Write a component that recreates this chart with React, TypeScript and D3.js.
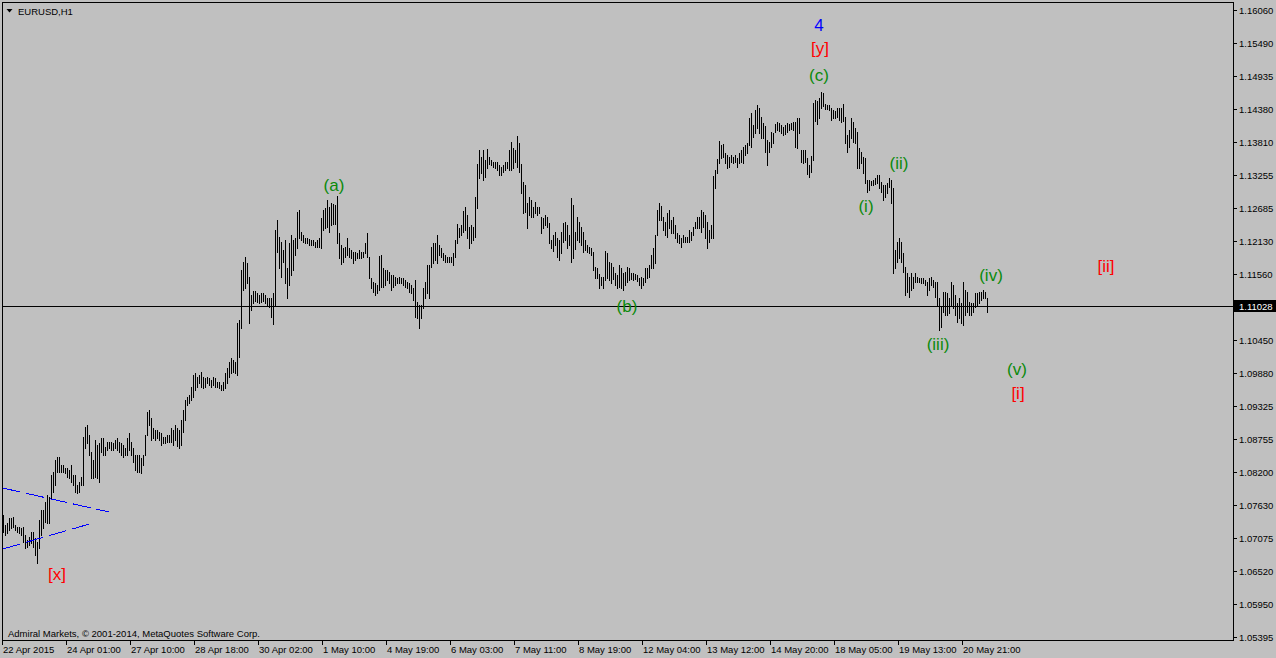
import * as d3 from 'd3'

// EURUSD H1, bar highs / lows (one value per hourly bar)
const highs = [
  1.0747, 1.0730, 1.0733, 1.0741, 1.0741, 1.0743, 1.0730, 1.0726, 1.0726, 1.0724,
  1.0726, 1.0712, 1.0704, 1.0709, 1.0718, 1.0718, 1.0707, 1.0701, 1.0738, 1.0755,
  1.0755, 1.0769, 1.0781, 1.0777, 1.0815, 1.0820, 1.0840, 1.0845, 1.0845, 1.0832,
  1.0832, 1.0827, 1.0827, 1.0823, 1.0832, 1.0815, 1.0815, 1.0798, 1.0803, 1.0811,
  1.0879, 1.0896, 1.0900, 1.0883, 1.0854, 1.0840, 1.0874, 1.0866, 1.0869, 1.0878,
  1.0878, 1.0862, 1.0871, 1.0871, 1.0871, 1.0869, 1.0874, 1.0878, 1.0871, 1.0869,
  1.0866, 1.0861, 1.0878, 1.0886, 1.0871, 1.0861, 1.0849, 1.0849, 1.0849, 1.0844,
  1.0849, 1.0883, 1.0922, 1.0925, 1.0912, 1.0895, 1.0891, 1.0891, 1.0888, 1.0886,
  1.0879, 1.0879, 1.0883, 1.0883, 1.0895, 1.0891, 1.0900, 1.0895, 1.0891, 1.0908,
  1.0925, 1.0942, 1.0947, 1.0951, 1.0964, 1.0985, 1.0988, 1.0981, 1.0985, 1.0990,
  1.0981, 1.0980, 1.0981, 1.0980, 1.0976, 1.0981, 1.0980, 1.0973, 1.0973, 1.0968,
  1.0973, 1.0988, 1.0997, 1.1007, 1.1014, 1.1010, 1.1007, 1.1073, 1.1078, 1.1164,
  1.1177, 1.1186, 1.1175, 1.1152, 1.1121, 1.1128, 1.1128, 1.1124, 1.1121, 1.1124,
  1.1124, 1.1121, 1.1116, 1.1116, 1.1116, 1.1124, 1.1232, 1.1249, 1.1220, 1.1211,
  1.1198, 1.1215, 1.1167, 1.1209, 1.1223, 1.1215, 1.1218, 1.1262, 1.1266, 1.1228,
  1.1223, 1.1218, 1.1218, 1.1216, 1.1215, 1.1215, 1.1211, 1.1215, 1.1218, 1.1252,
  1.1266, 1.1269, 1.1283, 1.1271, 1.1278, 1.1276, 1.1274, 1.1290, 1.1226, 1.1206,
  1.1201, 1.1203, 1.1218, 1.1201, 1.1198, 1.1194, 1.1194, 1.1192, 1.1198, 1.1194,
  1.1194, 1.1209, 1.1226, 1.1186, 1.1150, 1.1143, 1.1141, 1.1138, 1.1187, 1.1189,
  1.1167, 1.1164, 1.1164, 1.1160, 1.1155, 1.1155, 1.1152, 1.1150, 1.1152, 1.1150,
  1.1150, 1.1147, 1.1143, 1.1141, 1.1138, 1.1133, 1.1147, 1.1109, 1.1104, 1.1104,
  1.1133, 1.1143, 1.1172, 1.1172, 1.1203, 1.1209, 1.1209, 1.1223, 1.1206, 1.1201,
  1.1192, 1.1189, 1.1186, 1.1186, 1.1186, 1.1192, 1.1215, 1.1242, 1.1235, 1.1240,
  1.1264, 1.1271, 1.1257, 1.1237, 1.1240, 1.1237, 1.1288, 1.1344, 1.1368, 1.1356,
  1.1368, 1.1351, 1.1369, 1.1356, 1.1351, 1.1347, 1.1347, 1.1347, 1.1342, 1.1339,
  1.1342, 1.1347, 1.1347, 1.1368, 1.1381, 1.1371, 1.1368, 1.1391, 1.1379, 1.1344,
  1.1313, 1.1308, 1.1277, 1.1288, 1.1283, 1.1271, 1.1279, 1.1271, 1.1271, 1.1254,
  1.1252, 1.1257, 1.1254, 1.1244, 1.1215, 1.1223, 1.1228, 1.1218, 1.1215, 1.1228,
  1.1244, 1.1246, 1.1240, 1.1223, 1.1286, 1.1274, 1.1228, 1.1254, 1.1246, 1.1237,
  1.1228, 1.1215, 1.1206, 1.1203, 1.1201, 1.1194, 1.1169, 1.1167, 1.1157, 1.1152,
  1.1152, 1.1196, 1.1192, 1.1177, 1.1175, 1.1169, 1.1158, 1.1155, 1.1172, 1.1167,
  1.1158, 1.1160, 1.1169, 1.1167, 1.1158, 1.1158, 1.1157, 1.1155, 1.1150, 1.1152,
  1.1150, 1.1167, 1.1167, 1.1172, 1.1189, 1.1201, 1.1223, 1.1266, 1.1278, 1.1273,
  1.1254, 1.1246, 1.1261, 1.1266, 1.1249, 1.1254, 1.1240, 1.1226, 1.1223, 1.1218,
  1.1223, 1.1220, 1.1220, 1.1232, 1.1228, 1.1237, 1.1246, 1.1254, 1.1254, 1.1266,
  1.1262, 1.1257, 1.1246, 1.1232, 1.1240, 1.1323, 1.1334, 1.1352, 1.1383, 1.1376,
  1.1378, 1.1363, 1.1359, 1.1356, 1.1359, 1.1356, 1.1359, 1.1354, 1.1363, 1.1368,
  1.1373, 1.1376, 1.1380, 1.1422, 1.1431, 1.1410, 1.1436, 1.1444, 1.1439, 1.1424,
  1.1414, 1.1409, 1.1385, 1.1381, 1.1398, 1.1397, 1.1412, 1.1415, 1.1414, 1.1410,
  1.1407, 1.1410, 1.1414, 1.1412, 1.1414, 1.1415, 1.1415, 1.1422, 1.1422, 1.1368,
  1.1368, 1.1368, 1.1354, 1.1342, 1.1358, 1.1448, 1.1453, 1.1451, 1.1456, 1.1466,
  1.1465, 1.1446, 1.1444, 1.1444, 1.1439, 1.1436, 1.1434, 1.1439, 1.1439, 1.1439,
  1.1446, 1.1424, 1.1393, 1.1402, 1.1422, 1.1415, 1.1405, 1.1398, 1.1371, 1.1364,
  1.1356, 1.1354, 1.1317, 1.1317, 1.1315, 1.1317, 1.1320, 1.1325, 1.1325, 1.1313,
  1.1308, 1.1308, 1.1312, 1.1320, 1.1317, 1.1303, 1.1198, 1.1211, 1.1218, 1.1211,
  1.1192, 1.1169, 1.1158, 1.1152, 1.1158, 1.1152, 1.1158, 1.1152, 1.1150, 1.1150,
  1.1150, 1.1147, 1.1143, 1.1150, 1.1152, 1.1147, 1.1143, 1.1143, 1.1116, 1.1101,
  1.1126, 1.1126, 1.1124, 1.1116, 1.1143, 1.1138, 1.1121, 1.1107, 1.1116, 1.1107,
  1.1143, 1.1130, 1.1126, 1.1109, 1.1107, 1.1107, 1.1124, 1.1124, 1.1126, 1.1126,
  1.1130, 1.1126, 1.1116,
]

const lows = [
  1.0718, 1.0712, 1.0716, 1.0721, 1.0724, 1.0726, 1.0721, 1.0718, 1.0716, 1.0712,
  1.0701, 1.0690, 1.0692, 1.0696, 1.0699, 1.0692, 1.0679, 1.0665, 1.0690, 1.0712,
  1.0724, 1.0735, 1.0733, 1.0733, 1.0776, 1.0786, 1.0798, 1.0820, 1.0820, 1.0820,
  1.0820, 1.0818, 1.0811, 1.0810, 1.0803, 1.0798, 1.0786, 1.0784, 1.0786, 1.0798,
  1.0798, 1.0861, 1.0869, 1.0849, 1.0810, 1.0810, 1.0811, 1.0810, 1.0803, 1.0854,
  1.0849, 1.0849, 1.0857, 1.0861, 1.0857, 1.0857, 1.0861, 1.0857, 1.0854, 1.0849,
  1.0845, 1.0849, 1.0849, 1.0857, 1.0849, 1.0837, 1.0823, 1.0820, 1.0820, 1.0818,
  1.0832, 1.0849, 1.0883, 1.0900, 1.0874, 1.0878, 1.0874, 1.0878, 1.0874, 1.0866,
  1.0869, 1.0869, 1.0871, 1.0871, 1.0871, 1.0866, 1.0874, 1.0864, 1.0861, 1.0866,
  1.0888, 1.0908, 1.0934, 1.0937, 1.0942, 1.0947, 1.0959, 1.0964, 1.0971, 1.0964,
  1.0963, 1.0964, 1.0971, 1.0968, 1.0964, 1.0968, 1.0964, 1.0964, 1.0963, 1.0959,
  1.0959, 1.0963, 1.0971, 1.0981, 1.0988, 1.0990, 1.0988, 1.0985, 1.1016, 1.1065,
  1.1130, 1.1133, 1.1141, 1.1073, 1.1095, 1.1107, 1.1111, 1.1109, 1.1107, 1.1109,
  1.1111, 1.1107, 1.1104, 1.1101, 1.1084, 1.1072, 1.1104, 1.1194, 1.1167, 1.1152,
  1.1177, 1.1141, 1.1116, 1.1138, 1.1155, 1.1164, 1.1189, 1.1201, 1.1218, 1.1215,
  1.1211, 1.1209, 1.1209, 1.1206, 1.1206, 1.1206, 1.1203, 1.1203, 1.1203, 1.1201,
  1.1232, 1.1235, 1.1237, 1.1228, 1.1240, 1.1242, 1.1242, 1.1209, 1.1184, 1.1174,
  1.1177, 1.1186, 1.1189, 1.1186, 1.1184, 1.1175, 1.1181, 1.1184, 1.1184, 1.1184,
  1.1186, 1.1192, 1.1186, 1.1150, 1.1133, 1.1126, 1.1121, 1.1124, 1.1130, 1.1135,
  1.1135, 1.1138, 1.1147, 1.1141, 1.1130, 1.1135, 1.1138, 1.1141, 1.1141, 1.1141,
  1.1138, 1.1135, 1.1133, 1.1126, 1.1124, 1.1113, 1.1084, 1.1082, 1.1065, 1.1082,
  1.1099, 1.1116, 1.1124, 1.1116, 1.1168, 1.1175, 1.1181, 1.1175, 1.1189, 1.1186,
  1.1181, 1.1177, 1.1177, 1.1177, 1.1177, 1.1172, 1.1186, 1.1209, 1.1220, 1.1223,
  1.1228, 1.1232, 1.1218, 1.1201, 1.1209, 1.1215, 1.1220, 1.1269, 1.1320, 1.1329,
  1.1317, 1.1322, 1.1337, 1.1344, 1.1342, 1.1339, 1.1337, 1.1334, 1.1325, 1.1325,
  1.1330, 1.1334, 1.1337, 1.1334, 1.1334, 1.1337, 1.1347, 1.1339, 1.1330, 1.1295,
  1.1261, 1.1262, 1.1235, 1.1257, 1.1254, 1.1254, 1.1261, 1.1257, 1.1261, 1.1226,
  1.1235, 1.1240, 1.1237, 1.1209, 1.1201, 1.1196, 1.1206, 1.1186, 1.1181, 1.1192,
  1.1211, 1.1215, 1.1201, 1.1206, 1.1177, 1.1184, 1.1199, 1.1215, 1.1211, 1.1206,
  1.1194, 1.1198, 1.1194, 1.1192, 1.1189, 1.1164, 1.1150, 1.1150, 1.1133, 1.1138,
  1.1133, 1.1147, 1.1150, 1.1147, 1.1141, 1.1148, 1.1138, 1.1133, 1.1135, 1.1133,
  1.1130, 1.1138, 1.1143, 1.1147, 1.1148, 1.1147, 1.1148, 1.1145, 1.1138, 1.1133,
  1.1138, 1.1143, 1.1150, 1.1152, 1.1167, 1.1167, 1.1175, 1.1223, 1.1249, 1.1249,
  1.1232, 1.1223, 1.1220, 1.1235, 1.1226, 1.1226, 1.1218, 1.1211, 1.1209, 1.1203,
  1.1211, 1.1211, 1.1211, 1.1211, 1.1215, 1.1223, 1.1235, 1.1235, 1.1235, 1.1228,
  1.1237, 1.1218, 1.1201, 1.1211, 1.1218, 1.1218, 1.1303, 1.1329, 1.1345, 1.1354,
  1.1356, 1.1345, 1.1337, 1.1339, 1.1347, 1.1345, 1.1347, 1.1339, 1.1345, 1.1347,
  1.1345, 1.1359, 1.1363, 1.1376, 1.1373, 1.1390, 1.1397, 1.1405, 1.1397, 1.1388,
  1.1388, 1.1364, 1.1342, 1.1364, 1.1373, 1.1380, 1.1398, 1.1402, 1.1400, 1.1397,
  1.1393, 1.1395, 1.1398, 1.1402, 1.1403, 1.1402, 1.1373, 1.1371, 1.1397, 1.1347,
  1.1345, 1.1347, 1.1327, 1.1322, 1.1330, 1.1351, 1.1417, 1.1412, 1.1422, 1.1439,
  1.1443, 1.1438, 1.1438, 1.1436, 1.1419, 1.1422, 1.1422, 1.1424, 1.1419, 1.1415,
  1.1417, 1.1380, 1.1364, 1.1373, 1.1388, 1.1381, 1.1380, 1.1337, 1.1337, 1.1345,
  1.1329, 1.1312, 1.1296, 1.1300, 1.1308, 1.1308, 1.1310, 1.1312, 1.1303, 1.1296,
  1.1283, 1.1288, 1.1295, 1.1305, 1.1278, 1.1158, 1.1167, 1.1177, 1.1184, 1.1177,
  1.1160, 1.1121, 1.1126, 1.1118, 1.1130, 1.1133, 1.1143, 1.1143, 1.1143, 1.1141,
  1.1141, 1.1138, 1.1121, 1.1130, 1.1138, 1.1135, 1.1118, 1.1104, 1.1061, 1.1067,
  1.1092, 1.1087, 1.1087, 1.1090, 1.1104, 1.1099, 1.1087, 1.1075, 1.1082, 1.1073,
  1.1070, 1.1087, 1.1092, 1.1087, 1.1087, 1.1092, 1.1101, 1.1104, 1.1107, 1.1113,
  1.1116, 1.1116, 1.1092,
]

const lastPrice = 1.11028

const priceTicks = [
  1.16060, 1.15490, 1.14935, 1.14380, 1.13810, 1.13255, 1.12685, 1.12130, 1.11560,
  1.10450, 1.09880, 1.09325, 1.08755, 1.08200, 1.07630, 1.07075, 1.06520, 1.05950, 1.05395,
]

const timeTickBars = [0, 32, 64, 96, 128, 160, 192, 224, 256, 288, 320, 352, 384, 416, 448, 480]
const timeTickLabels = [
  '22 Apr 2015', '24 Apr 01:00', '27 Apr 10:00', '28 Apr 18:00', '30 Apr 02:00', '1 May 10:00',
  '4 May 19:00', '6 May 03:00', '7 May 11:00', '8 May 19:00', '12 May 04:00', '13 May 12:00',
  '14 May 20:00', '18 May 05:00', '19 May 13:00', '20 May 21:00',
]

// Elliott wave marks: text, anchor bar, anchor price, colour
const waveText = ['4', '[y]', '(c)', '(a)', '(b)', '(i)', '(ii)', '(iii)', '(iv)', '(v)', '[i]', '[ii]', '[x]']
const waveBar = [408, 408.5, 408, 165.5, 312, 431.5, 448, 467.5, 494, 507, 507.5, 551.5, 27]
const wavePrice = [1.1580, 1.1540, 1.1495, 1.1307, 1.1102, 1.1271, 1.1344, 1.1036, 1.1155, 1.0995, 1.0954, 1.1169, 1.0646]
const waveColor = ['#0000ff', '#ff0000', '#0b8a0b', '#0b8a0b', '#0b8a0b', '#0b8a0b', '#0b8a0b', '#0b8a0b', '#0b8a0b', '#0b8a0b', '#ff0000', '#ff0000', '#ff0000']

// dashed triangle trend lines [bar, price] -> [bar, price]
const trendFrom = [[-0.15, 1.07925], [-0.15, 1.06887]]
const trendTo = [[53, 1.07517], [45, 1.07330]]

const W = 1276
const H = 658
const frame = { left: 2, top: 2, right: 1233, bottom: 640 }
const font = '"Liberation Sans", Arial, sans-serif'

export default function App() {
  const x = d3.scaleLinear().domain([0, highs.length - 1]).range([3, 987])
  const y = d3.scaleLinear().domain([1.05395, 1.1606]).range([636.7, 10])
  const ly = Math.round(y(lastPrice)) + 0.5

  return (
    <>
      <style>{'body{margin:0}'}</style>
      <svg width={W} height={H} style={{ display: 'block' }} fontFamily={font}>
        <rect width={W} height={H} fill="#c0c0c0" />

        {/* bars */}
        <g shapeRendering="crispEdges" fill="#000">
          {highs.map((h, i) => {
            const top = Math.round(y(h))
            const bot = Math.round(y(lows[i]))
            return <rect key={i} x={Math.round(x(i))} y={top} width={1} height={Math.max(1, bot - top + 1)} />
          })}
        </g>

        {/* trend lines */}
        {trendFrom.map((f, k) => (
          <line key={k} x1={x(f[0])} y1={y(f[1])} x2={x(trendTo[k][0])} y2={y(trendTo[k][1])}
            stroke="#0000ff" strokeWidth={1} strokeDasharray="18,6" shapeRendering="crispEdges" />
        ))}

        {/* last price line */}
        <line x1={frame.left} x2={frame.right} y1={ly} y2={ly} stroke="#000" shapeRendering="crispEdges" />

        {/* frame */}
        <rect x={frame.left + 0.5} y={frame.top + 0.5} width={frame.right - frame.left} height={frame.bottom - frame.top}
          fill="none" stroke="#000" shapeRendering="crispEdges" />

        {/* price axis */}
        <g fontSize={9.5} fill="#000" shapeRendering="crispEdges">
          {priceTicks.map((p) => {
            const py = Math.round(y(p)) + 0.5
            return (
              <g key={p}>
                <line x1={frame.right} x2={frame.right + 4} y1={py} y2={py} stroke="#000" />
                <text x={frame.right + 6} y={py} dominantBaseline="central">{p.toFixed(5)}</text>
              </g>
            )
          })}
          <rect x={frame.right + 1} y={ly - 6.5} width={W - frame.right - 1} height={12} fill="#000" />
          <text x={frame.right + 6} y={ly} dominantBaseline="central" fill="#fff">{lastPrice.toFixed(5)}</text>
        </g>

        {/* time axis */}
        <g fontSize={9.5} fill="#000" shapeRendering="crispEdges">
          {timeTickBars.map((b, k) => {
            const tx = Math.round(x(b)) - 0.5
            return (
              <g key={b}>
                <line x1={tx} x2={tx} y1={frame.bottom} y2={frame.bottom + 5} stroke="#000" />
                <text x={tx + 0.5} y={649} dominantBaseline="central">{timeTickLabels[k]}</text>
              </g>
            )
          })}
        </g>

        {/* title */}
        <path d="M6.5,9 L12.5,9 L9.5,12.5 Z" fill="#000" />
        <text x={18} y={11} fontSize={9.5} dominantBaseline="central" fill="#000">EURUSD,H1</text>

        <text x={8} y={633} fontSize={9.5} dominantBaseline="central" fill="#000">
          Admiral Markets, © 2001-2014, MetaQuotes Software Corp.
        </text>

        {/* wave labels */}
        {waveText.map((t, k) => (
          <text key={k} x={x(waveBar[k])} y={y(wavePrice[k])} fontSize={17} textAnchor="middle"
            dominantBaseline="central" fill={waveColor[k]}>{t}</text>
        ))}
      </svg>
    </>
  )
}
